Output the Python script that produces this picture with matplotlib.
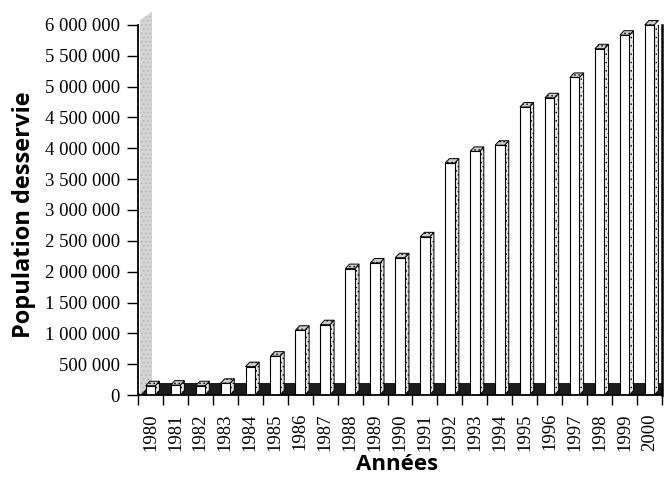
import matplotlib
matplotlib.use("Agg")
import matplotlib.pyplot as plt
from matplotlib.patches import Polygon
from matplotlib.ticker import FuncFormatter, MultipleLocator

years = [str(y) for y in range(1980, 2001)]
population = [150000, 160000, 150000, 190000, 460000, 630000, 1050000, 1140000,
              2050000, 2140000, 2225000, 2565000, 3760000, 3950000, 4050000,
              4670000, 4820000, 5150000, 5615000, 5835000, 6000000]
ylabel = "Population desservie"
xlabel = "Années"

plt.rcParams['hatch.color'] = '#8a8a8a'
plt.rcParams['hatch.linewidth'] = 0.5

W, H = 667, 479
fig = plt.figure(figsize=(W / 100, H / 100), dpi=100)
ax_l, ax_r, ax_b, ax_t = 138, 662, 395, 25
ax = fig.add_axes([ax_l / W, 1 - ax_b / H, (ax_r - ax_l) / W, (ax_b - ax_t) / H])

n = len(years)
ax.set_xlim(-0.5, n - 0.5)
ax.set_ylim(0, 6000000)

px_x = (n) / (ax_r - ax_l)          # data units per pixel (x)
px_y = 6000000 / (ax_b - ax_t)      # data units per pixel (y)

# 3D floor (dark band) and left wall
fdx, fdy = 12 * px_x, 12 * px_y
floor = Polygon([(-0.5, 0), (n - 0.5, 0), (n - 0.5 + fdx, fdy), (-0.5 + fdx, fdy)],
                closed=True, facecolor="#1c1c1c", edgecolor="none", zorder=1, clip_on=True)
ax.add_patch(floor)
wall = Polygon([(-0.5 + 2 * px_x, 0), (-0.5 + 2 * px_x + fdx, fdy),
                (-0.5 + 2 * px_x + fdx, 6000000 + 13 * px_y), (-0.5 + 2 * px_x, 6000000 + 5 * px_y)],
               closed=True, facecolor="#d4d4d4", edgecolor="#b0b0b0", hatch="....",
               linewidth=0.0, zorder=1, clip_on=False)
ax.add_patch(wall)

# bars: front faces through ax.bar, plus side and top faces
bw = 0.38
bdx, bdy = 4.2 * px_x, 4.5 * px_y
xs = list(range(n))
ax.bar(xs, population, width=bw, color="white", edgecolor="black", linewidth=0.8, zorder=3)
for x, v in zip(xs, population):
    r = x + bw / 2
    l = x - bw / 2
    side = Polygon([(r, 0), (r + bdx, bdy), (r + bdx, v + bdy), (r, v)], closed=True,
                   facecolor="#e8e8e8", edgecolor="black", linewidth=0.7, hatch="....",
                   zorder=2.9)
    top = Polygon([(l, v), (r, v), (r + bdx, v + bdy), (l + bdx, v + bdy)], closed=True,
                  facecolor="#cccccc", edgecolor="black", linewidth=0.7, hatch="....",
                  zorder=2.9, clip_on=False)
    ax.add_patch(side)
    ax.add_patch(top)

# spines
ax.spines["top"].set_visible(False)
ax.spines["left"].set_linewidth(1.3)
ax.spines["bottom"].set_linewidth(1.3)
ax.spines["right"].set_linewidth(1.8)
ax.spines["left"].set_zorder(5)
ax.spines["bottom"].set_zorder(5)

# y axis
ax.yaxis.set_major_locator(MultipleLocator(500000))
ax.yaxis.set_major_formatter(FuncFormatter(lambda v, p: f"{int(v):,}".replace(",", " ")))
ax.tick_params(axis="y", direction="out", length=8, width=1.0, pad=5, labelsize=13.5)
for lab in ax.get_yticklabels():
    lab.set_fontfamily("Liberation Serif")

# x axis: labels at category centres, ticks at boundaries
ax.set_xticks(xs)
ax.set_xticklabels(years, rotation=90, family="Liberation Serif", fontsize=13.5)
ax.set_xticks([i - 0.5 for i in range(n + 1)], minor=True)
ax.tick_params(axis="x", which="major", length=0, pad=13)
ax.tick_params(axis="x", which="minor", direction="out", length=7, width=1.0)

fig.text(24 / W, 1 - 215 / H, ylabel, rotation=90, ha="center", va="center",
         fontsize=17, fontweight="bold", family="Open Sans")
fig.text(397 / W, 1 - 465 / H, xlabel, ha="center", va="center",
         fontsize=16, fontweight="bold", family="Open Sans")

fig.savefig("out.png", dpi=100)
